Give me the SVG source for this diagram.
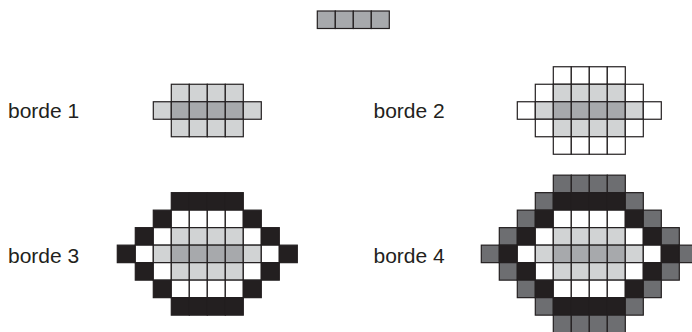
<svg xmlns="http://www.w3.org/2000/svg" width="692" height="332" viewBox="0 0 692 332">
<style>
rect{stroke:#231f20;stroke-width:1.2;width:18px;height:17.5px}
.M{fill:#a7a9ac}.L{fill:#d1d3d4}.W{fill:#fff}.K{fill:#231f20}.D{fill:#6d6e71}
text{font-family:"Liberation Sans",Arial,sans-serif;font-size:21px;fill:#231f20}
</style>
<rect x="0" y="0" width="692" height="332" style="fill:#fff;stroke:none;width:692px;height:332px"/>
<g id="seed" transform="translate(317.3,11)">
<rect class="M" x="0" y="0"/><rect class="M" x="18" y="0"/><rect class="M" x="36" y="0"/><rect class="M" x="54" y="0"/>
</g>
<g id="borde1" transform="translate(153.3,84.25)">
<rect class="L" x="18" y="0"/><rect class="L" x="36" y="0"/><rect class="L" x="54" y="0"/><rect class="L" x="72" y="0"/>
<rect class="L" x="0" y="17.5"/><rect class="M" x="18" y="17.5"/><rect class="M" x="36" y="17.5"/><rect class="M" x="54" y="17.5"/><rect class="M" x="72" y="17.5"/><rect class="L" x="90" y="17.5"/>
<rect class="L" x="18" y="35"/><rect class="L" x="36" y="35"/><rect class="L" x="54" y="35"/><rect class="L" x="72" y="35"/>
</g>
<g id="borde2" transform="translate(517.3,66.75)">
<rect class="W" x="36" y="0"/><rect class="W" x="54" y="0"/><rect class="W" x="72" y="0"/><rect class="W" x="90" y="0"/>
<rect class="W" x="18" y="17.5"/><rect class="L" x="36" y="17.5"/><rect class="L" x="54" y="17.5"/><rect class="L" x="72" y="17.5"/><rect class="L" x="90" y="17.5"/><rect class="W" x="108" y="17.5"/>
<rect class="W" x="0" y="35"/><rect class="L" x="18" y="35"/><rect class="M" x="36" y="35"/><rect class="M" x="54" y="35"/><rect class="M" x="72" y="35"/><rect class="M" x="90" y="35"/><rect class="L" x="108" y="35"/><rect class="W" x="126" y="35"/>
<rect class="W" x="18" y="52.5"/><rect class="L" x="36" y="52.5"/><rect class="L" x="54" y="52.5"/><rect class="L" x="72" y="52.5"/><rect class="L" x="90" y="52.5"/><rect class="W" x="108" y="52.5"/>
<rect class="W" x="36" y="70"/><rect class="W" x="54" y="70"/><rect class="W" x="72" y="70"/><rect class="W" x="90" y="70"/>
</g>
<g id="borde3" transform="translate(117.3,192.65)">
<rect class="K" x="54" y="0"/><rect class="K" x="72" y="0"/><rect class="K" x="90" y="0"/><rect class="K" x="108" y="0"/>
<rect class="K" x="36" y="17.5"/><rect class="W" x="54" y="17.5"/><rect class="W" x="72" y="17.5"/><rect class="W" x="90" y="17.5"/><rect class="W" x="108" y="17.5"/><rect class="K" x="126" y="17.5"/>
<rect class="K" x="18" y="35"/><rect class="W" x="36" y="35"/><rect class="L" x="54" y="35"/><rect class="L" x="72" y="35"/><rect class="L" x="90" y="35"/><rect class="L" x="108" y="35"/><rect class="W" x="126" y="35"/><rect class="K" x="144" y="35"/>
<rect class="K" x="0" y="52.5"/><rect class="W" x="18" y="52.5"/><rect class="L" x="36" y="52.5"/><rect class="M" x="54" y="52.5"/><rect class="M" x="72" y="52.5"/><rect class="M" x="90" y="52.5"/><rect class="M" x="108" y="52.5"/><rect class="L" x="126" y="52.5"/><rect class="W" x="144" y="52.5"/><rect class="K" x="162" y="52.5"/>
<rect class="K" x="18" y="70"/><rect class="W" x="36" y="70"/><rect class="L" x="54" y="70"/><rect class="L" x="72" y="70"/><rect class="L" x="90" y="70"/><rect class="L" x="108" y="70"/><rect class="W" x="126" y="70"/><rect class="K" x="144" y="70"/>
<rect class="K" x="36" y="87.5"/><rect class="W" x="54" y="87.5"/><rect class="W" x="72" y="87.5"/><rect class="W" x="90" y="87.5"/><rect class="W" x="108" y="87.5"/><rect class="K" x="126" y="87.5"/>
<rect class="K" x="54" y="105"/><rect class="K" x="72" y="105"/><rect class="K" x="90" y="105"/><rect class="K" x="108" y="105"/>
</g>
<g id="borde4" transform="translate(481.3,175.15)">
<rect class="D" x="72" y="0"/><rect class="D" x="90" y="0"/><rect class="D" x="108" y="0"/><rect class="D" x="126" y="0"/>
<rect class="D" x="54" y="17.5"/><rect class="K" x="72" y="17.5"/><rect class="K" x="90" y="17.5"/><rect class="K" x="108" y="17.5"/><rect class="K" x="126" y="17.5"/><rect class="D" x="144" y="17.5"/>
<rect class="D" x="36" y="35"/><rect class="K" x="54" y="35"/><rect class="W" x="72" y="35"/><rect class="W" x="90" y="35"/><rect class="W" x="108" y="35"/><rect class="W" x="126" y="35"/><rect class="K" x="144" y="35"/><rect class="D" x="162" y="35"/>
<rect class="D" x="18" y="52.5"/><rect class="K" x="36" y="52.5"/><rect class="W" x="54" y="52.5"/><rect class="L" x="72" y="52.5"/><rect class="L" x="90" y="52.5"/><rect class="L" x="108" y="52.5"/><rect class="L" x="126" y="52.5"/><rect class="W" x="144" y="52.5"/><rect class="K" x="162" y="52.5"/><rect class="D" x="180" y="52.5"/>
<rect class="D" x="0" y="70"/><rect class="K" x="18" y="70"/><rect class="W" x="36" y="70"/><rect class="L" x="54" y="70"/><rect class="M" x="72" y="70"/><rect class="M" x="90" y="70"/><rect class="M" x="108" y="70"/><rect class="M" x="126" y="70"/><rect class="L" x="144" y="70"/><rect class="W" x="162" y="70"/><rect class="K" x="180" y="70"/><rect class="D" x="198" y="70"/>
<rect class="D" x="18" y="87.5"/><rect class="K" x="36" y="87.5"/><rect class="W" x="54" y="87.5"/><rect class="L" x="72" y="87.5"/><rect class="L" x="90" y="87.5"/><rect class="L" x="108" y="87.5"/><rect class="L" x="126" y="87.5"/><rect class="W" x="144" y="87.5"/><rect class="K" x="162" y="87.5"/><rect class="D" x="180" y="87.5"/>
<rect class="D" x="36" y="105"/><rect class="K" x="54" y="105"/><rect class="W" x="72" y="105"/><rect class="W" x="90" y="105"/><rect class="W" x="108" y="105"/><rect class="W" x="126" y="105"/><rect class="K" x="144" y="105"/><rect class="D" x="162" y="105"/>
<rect class="D" x="54" y="122.5"/><rect class="K" x="72" y="122.5"/><rect class="K" x="90" y="122.5"/><rect class="K" x="108" y="122.5"/><rect class="K" x="126" y="122.5"/><rect class="D" x="144" y="122.5"/>
<rect class="D" x="72" y="140"/><rect class="D" x="90" y="140"/><rect class="D" x="108" y="140"/><rect class="D" x="126" y="140"/>
</g>
<g id="labels">
<text x="8" y="117.7">borde 1</text>
<text x="373.5" y="117.7">borde 2</text>
<text x="8" y="262.6">borde 3</text>
<text x="373.5" y="262.6">borde 4</text>
</g>
</svg>
